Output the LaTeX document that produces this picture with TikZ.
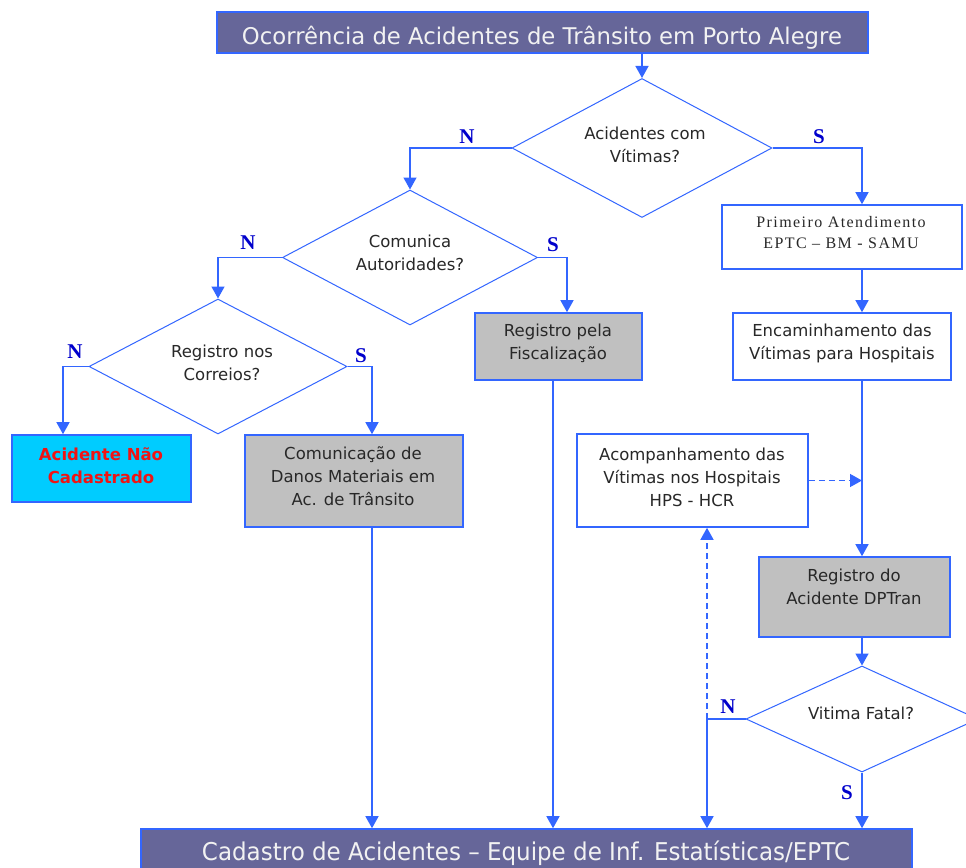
\documentclass[tikz,border=0pt]{standalone}
\usepackage{fontspec}
\setmainfont{DejaVu Sans}
\newfontfamily\lblfont{Liberation Serif}
\newfontfamily\primfont[LetterSpace=9]{Liberation Serif}
\usetikzlibrary{shapes.geometric,arrows.meta}
\definecolor{lineblue}{RGB}{51,102,255}
\definecolor{titlefill}{RGB}{102,102,153}
\definecolor{titletext}{RGB}{242,242,242}
\definecolor{grayfill}{RGB}{192,192,192}
\definecolor{cyanfill}{RGB}{0,204,255}
\definecolor{labelblue}{RGB}{0,0,204}
\definecolor{redtext}{RGB}{240,20,20}
\definecolor{textgray}{RGB}{40,40,40}
\tikzset{
  conn/.style={draw=lineblue, line width=1.4pt},
  arr/.style={conn, -{Triangle[width=13pt,length=12pt]}},
  darr/.style={arr, dash pattern=on 6pt off 4pt},
  dec/.style={diamond, draw=lineblue, line width=1pt, inner sep=0pt, fill=white},
  box/.style={rectangle, draw=lineblue, line width=1.6pt, inner sep=0pt},
  txt/.style={align=center, inner sep=0pt, font=\fontsize{16.5}{23}\selectfont, text=textgray},
  lbl/.style={inner sep=0pt, font=\lblfont\bfseries\fontsize{21}{21}\selectfont, text=labelblue},
}
\begin{document}
\begin{tikzpicture}[x=1pt,y=-1pt]
\useasboundingbox (0,0) rectangle (966,867);
\clip (0,0) rectangle (966,867);
\fill[white] (0,0) rectangle (966,867);

% column coordinates
\coordinate (cR) at (862,0);
\coordinate (cF) at (567,0);
\coordinate (cFo) at (553,0);
\coordinate (cC) at (372,0);
\coordinate (cA) at (63,0);
\coordinate (cN) at (707,0);

% title and bottom
\node[box, fill=titlefill, minimum width=651pt, minimum height=41pt] (title) at (542.5,32.5) {};
\node[anchor=base, inner sep=0pt, text=titletext] (titlet) at (542,45) {\resizebox{600pt}{\height}{\fontsize{23}{23}\selectfont Ocorrência de Acidentes de Trânsito em Porto Alegre}};
\node[box, fill=titlefill, minimum width=771pt, minimum height=49pt] (bottom) at (526.5,853.5) {};
\node[anchor=base, inner sep=0pt, text=titletext] (bottomt) at (526,860) {\resizebox{648pt}{\height}{\fontsize{24.5}{24.5}\selectfont Cadastro de Acidentes – Equipe de Inf. Estatísticas/EPTC}};

% decisions
\node[dec, minimum width=260pt, minimum height=139pt] (d1) at (642,148) {};
\node[txt] (d1t) at (645,145) {Acidentes com\\Vítimas?};
\node[dec, minimum width=255pt, minimum height=135pt] (d2) at (410,257.5) {};
\node[txt] (d2t) at (410,253) {Comunica\\Autoridades?};
\node[dec, minimum width=258pt, minimum height=135pt] (d3) at (218,366.5) {};
\node[txt] (d3t) at (222,363) {Registro nos\\Correios?};
\node[dec, minimum width=232pt, minimum height=106pt] (d4) at (862,719) {};
\node[txt] (d4t) at (861,713) {Vitima Fatal?};

% boxes
\node[box, fill=grayfill, minimum width=167pt, minimum height=67pt] (fisc) at (558.5,346.5) {};
\node[txt] (fisct) at (558,343) {Registro pela\\Fiscalização};
\node[box, fill=cyanfill, minimum width=179pt, minimum height=67pt] (nao) at (101.5,468.5) {};
\node[txt, font=\bfseries\fontsize{16.5}{23}\selectfont, text=redtext] (naot) at (101,465.5) {Acidente Não\\Cadastrado};
\node[box, fill=grayfill, minimum width=218pt, minimum height=92pt] (comun) at (354,481) {};
\node[txt] (comunt) at (353,476) {Comunicação de\\Danos Materiais em\\Ac. de Trânsito};
\node[box, fill=white, minimum width=240pt, minimum height=64pt] (prim) at (842,237) {};
\node[txt, font=\primfont\fontsize{16}{21}\selectfont] (primt) at (841,232.5) {Primeiro Atendimento\\EPTC – BM - SAMU};
\node[box, fill=white, minimum width=218pt, minimum height=67pt] (enc) at (842,346.5) {};
\node[txt] (enct) at (842,343) {Encaminhamento das\\Vítimas para Hospitais};
\node[box, fill=white, minimum width=231pt, minimum height=93pt] (acomp) at (692.5,480.5) {};
\node[txt] (acompt) at (692,477) {Acompanhamento das\\Vítimas nos Hospitais\\HPS - HCR};
\node[box, fill=grayfill, minimum width=191pt, minimum height=80pt] (dptran) at (854.5,597) {};
\node[txt] (dptrant) at (854,587) {Registro do\\Acidente DPTran};

% connectors
\draw[arr] (title.south -| d1.north) -- (d1.north);
\draw[arr] (d1.west) -| (d2.north);
\draw[arr] (d1.east) -| (cR |- prim.north);
\draw[arr] (cR |- prim.south) -- (cR |- enc.north);
\draw[arr] (cR |- enc.south) -- (cR |- dptran.north);
\draw[arr] (cR |- dptran.south) -- (d4.north);
\draw[darr] (acomp.east) -- (acomp.east -| cR);
\draw[conn] (d4.west) -- (d4.west -| cN) coordinate (nj);
\draw[darr] (nj) -- (nj |- acomp.south);
\draw[arr] (nj) -- (nj |- bottom.north);
\draw[arr] (d4.south) -- (d4.south |- bottom.north);
\draw[arr] (d2.west) -| (d3.north);
\draw[arr] (d2.east) -| (cF |- fisc.north);
\draw[arr] (cFo |- fisc.south) -- (cFo |- bottom.north);
\draw[arr] (d3.west) -| (cA |- nao.north);
\draw[arr] (d3.east) -| (cC |- comun.north);
\draw[arr] (cC |- comun.south) -- (cC |- bottom.north);

% branch labels
\node[lbl] (n1) at (467,137) {N};
\node[lbl] (s1) at (819,137) {S};
\node[lbl] (n2) at (248,243) {N};
\node[lbl] (s2) at (553,245) {S};
\node[lbl] (n3) at (75,352) {N};
\node[lbl] (s3) at (361,356) {S};
\node[lbl] (n4) at (728,707) {N};
\node[lbl] (s4) at (847,793) {S};
\end{tikzpicture}
\end{document}
